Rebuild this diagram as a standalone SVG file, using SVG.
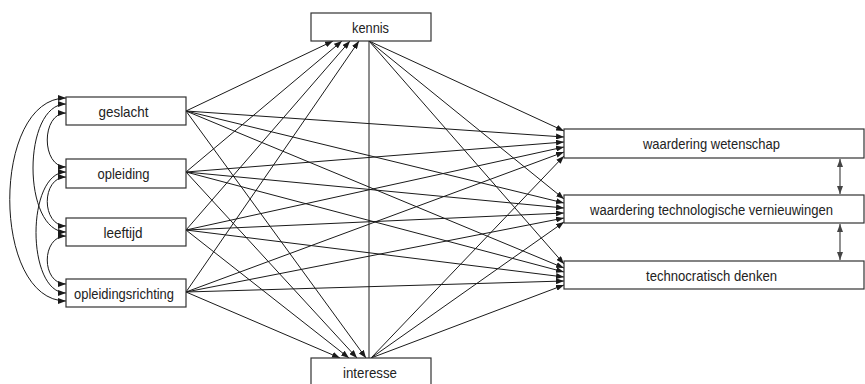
<svg xmlns="http://www.w3.org/2000/svg" width="865" height="384" viewBox="0 0 865 384">
<style>
.box{fill:#fff;stroke:#333;stroke-width:1.2}
.lbl{font-family:"Liberation Sans Narrow","Liberation Sans",Arial,sans-serif;font-size:15px;fill:#222;text-anchor:middle}
.c{fill:none;stroke:#1a1a1a;stroke-width:1}
.a{marker-end:url(#ah)}
.d{fill:none;stroke:#1a1a1a;stroke-width:1;marker-start:url(#ahs);marker-end:url(#ah)}
.g{fill:none;stroke:#555;stroke-width:1.3;marker-start:url(#ahsg);marker-end:url(#ahg)}
</style>
<defs>
<marker id="ah" markerUnits="userSpaceOnUse" markerWidth="8" markerHeight="6" refX="8" refY="3" orient="auto"><path d="M0,0 L8,3 L0,6 z" fill="#1a1a1a"/></marker>
<marker id="ahs" markerUnits="userSpaceOnUse" markerWidth="8" markerHeight="6" refX="8" refY="3" orient="auto-start-reverse"><path d="M0,0 L8,3 L0,6 z" fill="#1a1a1a"/></marker>
<marker id="ahg" markerUnits="userSpaceOnUse" markerWidth="8" markerHeight="6" refX="8" refY="3" orient="auto"><path d="M0,0 L8,3 L0,6 z" fill="#444"/></marker>
<marker id="ahsg" markerUnits="userSpaceOnUse" markerWidth="8" markerHeight="6" refX="8" refY="3" orient="auto-start-reverse"><path d="M0,0 L8,3 L0,6 z" fill="#444"/></marker>
</defs>
<g id="connectors">
<line class="c a" x1="186" y1="111" x2="333" y2="41"/>
<line class="c a" x1="186" y1="172" x2="342" y2="41"/>
<line class="c a" x1="186" y1="230" x2="350" y2="41"/>
<line class="c a" x1="186" y1="292" x2="359" y2="41"/>
<line class="c a" x1="186" y1="111" x2="366" y2="358"/>
<line class="c a" x1="186" y1="172" x2="357" y2="358"/>
<line class="c a" x1="186" y1="230" x2="349" y2="358"/>
<line class="c a" x1="186" y1="292" x2="340" y2="358"/>
<line class="c" x1="369" y1="41" x2="369" y2="358"/>
<line class="c a" x1="369" y1="41" x2="564" y2="131"/>
<line class="c a" x1="186" y1="111" x2="564" y2="137"/>
<line class="c a" x1="186" y1="172" x2="564" y2="142"/>
<line class="c a" x1="186" y1="230" x2="564" y2="147"/>
<line class="c a" x1="186" y1="292" x2="564" y2="152"/>
<line class="c a" x1="371" y1="358" x2="564" y2="156"/>
<line class="c a" x1="369" y1="41" x2="564" y2="199"/>
<line class="c a" x1="186" y1="111" x2="564" y2="203"/>
<line class="c a" x1="186" y1="172" x2="564" y2="208"/>
<line class="c a" x1="186" y1="230" x2="564" y2="213"/>
<line class="c a" x1="186" y1="292" x2="564" y2="218"/>
<line class="c a" x1="371" y1="358" x2="564" y2="222"/>
<line class="c a" x1="369" y1="41" x2="564" y2="264"/>
<line class="c a" x1="186" y1="111" x2="564" y2="268"/>
<line class="c a" x1="186" y1="172" x2="564" y2="272"/>
<line class="c a" x1="186" y1="230" x2="564" y2="277"/>
<line class="c a" x1="186" y1="292" x2="564" y2="281"/>
<line class="c a" x1="371" y1="358" x2="564" y2="285"/>
<path class="d" d="M66,98 C-9,98 -9,301 66,301"/>
<path class="d" d="M66,104 C22,104 22,232 66,232"/>
<path class="d" d="M66,172 C26,172 26,293 66,293"/>
<path class="d" d="M66,113 C41,113 41,167 66,167"/>
<path class="d" d="M66,177 C41,177 41,226 66,226"/>
<path class="d" d="M66,236 C41,236 41,284 66,284"/>
<line class="g" x1="840" y1="159" x2="840" y2="194"/>
<line class="g" x1="840" y1="224" x2="840" y2="260"/>
</g>
<g id="geslacht"><rect class="box" x="66" y="97" width="120" height="28"/><text class="lbl" x="123.5" y="116.5" textLength="50" lengthAdjust="spacingAndGlyphs">geslacht</text></g>
<g id="opleiding"><rect class="box" x="66" y="159" width="120" height="29"/><text class="lbl" x="123.5" y="179" textLength="52" lengthAdjust="spacingAndGlyphs">opleiding</text></g>
<g id="leeftijd"><rect class="box" x="66" y="218" width="120" height="28"/><text class="lbl" x="123" y="237.5" textLength="39" lengthAdjust="spacingAndGlyphs">leeftijd</text></g>
<g id="opleidingsrichting"><rect class="box" x="66" y="279" width="120" height="28"/><text class="lbl" x="124" y="298.5" textLength="100" lengthAdjust="spacingAndGlyphs">opleidingsrichting</text></g>
<g id="kennis"><rect class="box" x="311" y="13" width="120" height="28"/><text class="lbl" x="370.5" y="32.5" textLength="37" lengthAdjust="spacingAndGlyphs">kennis</text></g>
<g id="interesse"><rect class="box" x="311" y="358" width="120" height="28"/><text class="lbl" x="370" y="377.5" textLength="54" lengthAdjust="spacingAndGlyphs">interesse</text></g>
<g id="waardering-wetenschap"><rect class="box" x="564" y="129" width="300" height="29"/><text class="lbl" x="711.5" y="149" textLength="137" lengthAdjust="spacingAndGlyphs">waardering wetenschap</text></g>
<g id="waardering-technologische-vernieuwingen"><rect class="box" x="564" y="195" width="300" height="28"/><text class="lbl" x="711.5" y="214.5" style="font-size:14px" textLength="243" lengthAdjust="spacingAndGlyphs">waardering technologische vernieuwingen</text></g>
<g id="technocratisch-denken"><rect class="box" x="564" y="261" width="300" height="28"/><text class="lbl" x="711.5" y="280.5" textLength="131" lengthAdjust="spacingAndGlyphs">technocratisch denken</text></g>
</svg>
